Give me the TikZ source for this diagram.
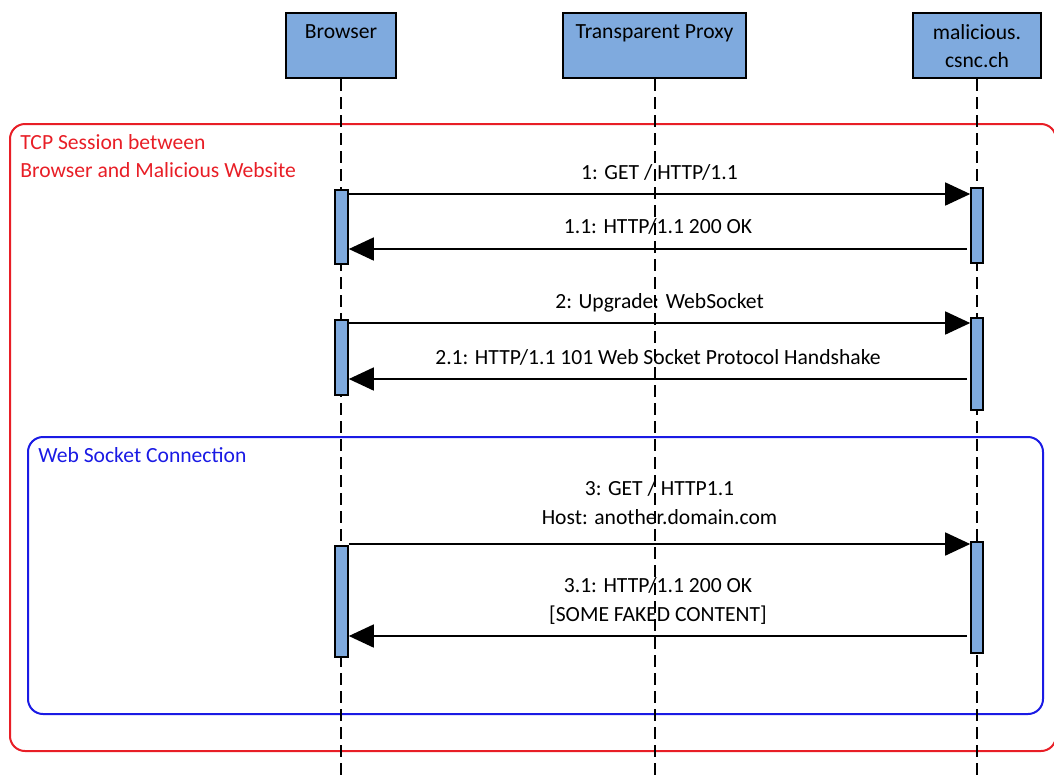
\documentclass[tikz,border=0pt]{standalone}
\usepackage{fontspec}
\setmainfont{Carlito}
\usetikzlibrary{arrows.meta}
\definecolor{boxblue}{RGB}{127,170,222}
\definecolor{tcpred}{RGB}{232,30,38}
\definecolor{wsblue}{RGB}{26,26,228}

\begin{document}
\begin{tikzpicture}[x=0.5pt,y=-0.5pt,>={Triangle[length=12.5pt,width=11.5pt]},
	font=\fontsize{10.8}{14.2}\selectfont,
	actor/.style={draw,fill=boxblue,line width=1pt,minimum height=32.5pt,inner sep=0pt},
	title/.style={anchor=north,inner sep=0pt,align=center,yshift=-6pt},
	bar/.style={draw,fill=boxblue,line width=0.8pt,inner sep=0pt},
	lifeline/.style={dash pattern=on 6pt off 3pt,line width=1pt},
	msg/.style={->,line width=0.8pt},
	msglabel/.style={midway,anchor=south,inner sep=0pt,text depth=0pt,align=center},
	frame/.style={line width=1pt,rounded corners=7.5pt}]
	\useasboundingbox (0,0) rectangle (1054,778);
	
	\draw[frame,tcpred] (10,124) rectangle (1056,751);
	\node[tcpred,anchor=north west,inner sep=0pt,align=left] (tcp) at (20,134) {TCP Session between\\Browser and Malicious Website};
	\draw[frame,wsblue] (28,437) rectangle (1043,714);
	\node[wsblue,anchor=north west,inner sep=0pt] (ws) at (38,447.5) {Web Socket Connection};
	
	\node[actor,minimum width=55pt,label={[title]north:Browser}] (browser) at (341,45.5) {};
	\node[actor,minimum width=91.5pt,label={[title]north:Transparent Proxy}] (proxy) at (654.5,45.5) {};
	\node[actor,minimum width=64pt,label={[title]north:malicious.\\csnc.ch}] (mal) at (977,45.5) {};
	
	\coordinate (end) at (0,778);
	\foreach \p in {browser,proxy,mal}
		\draw[lifeline] (\p.south) -- (\p.south |- end);
	
	\node[bar,minimum width=6.5pt,minimum height=37pt] (br-1) at (341.5,227) {};
	\node[bar,minimum width=6.5pt,minimum height=37.5pt] (br-2) at (341.5,357.5) {};
	\node[bar,minimum width=6.5pt,minimum height=55.5pt] (br-3) at (341.5,601.5) {};
	\node[bar,minimum width=6pt,minimum height=37.5pt] (mal-1) at (977,225.5) {};
	\node[bar,minimum width=6pt,minimum height=46pt] (mal-2) at (977,364) {};
	\node[bar,minimum width=6pt,minimum height=55.5pt] (mal-3) at (977,597.5) {};
	
	\coordinate (m1) at (0,194);
	\coordinate (m11) at (0,249);
	\coordinate (m2) at (0,323);
	\coordinate (m21) at (0,379);
	\coordinate (m3) at (0,544);
	\coordinate (m31) at (0,636);
	
	\draw[msg] (br-1.east |- m1) -- (mal-1.west |- m1) node[msglabel,above=7pt] {1: GET / HTTP/1.1};
	\draw[msg] ([xshift=-1.5pt]mal-1.west |- m11) -- (br-1.east |- m11) node[msglabel,above=7.5pt] {1.1: HTTP/1.1 200 OK};
	\draw[msg] (br-2.east |- m2) -- (mal-2.west |- m2) node[msglabel,above=7pt] {2: Upgrade: WebSocket};
	\draw[msg] ([xshift=-1.5pt]mal-2.west |- m21) -- (br-2.east |- m21) node[msglabel,above=7pt] {2.1: HTTP/1.1 101 Web Socket Protocol Handshake};
	\draw[msg] (br-3.east |- m3) -- (mal-3.west |- m3) node[msglabel,above=9.5pt] {3: GET / HTTP1.1\\Host: another.domain.com};
	\draw[msg] ([xshift=-1.5pt]mal-3.west |- m31) -- (br-3.east |- m31) node[msglabel,above=7pt] {3.1: HTTP/1.1 200 OK\\{[SOME FAKED CONTENT]}};
\end{tikzpicture}
\end{document}
